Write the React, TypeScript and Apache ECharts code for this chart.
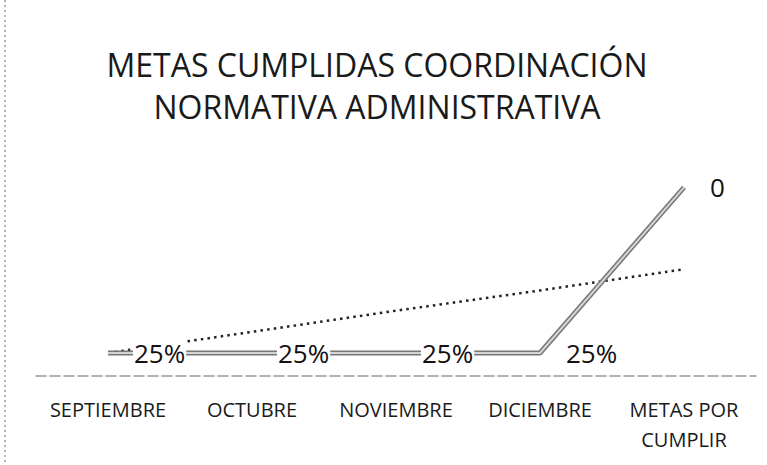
import React, { useEffect, useRef } from "react";
import * as echarts from "echarts";

const titleLines = ["METAS CUMPLIDAS COORDINACIÓN", "NORMATIVA ADMINISTRATIVA"];
const categories = ["SEPTIEMBRE", "OCTUBRE", "NOVIEMBRE", "DICIEMBRE", "METAS POR\nCUMPLIR"];
const metasValues = [0.25, 0.25, 0.25, 0.25, 2.05];
const pointLabels = ["25%", "25%", "25%", "25%", "0"];
const trendValues = [0.25, 0.48, 0.71, 0.93, 1.16];

export default function App() {
  const ref = useRef<HTMLDivElement>(null);
  useEffect(() => {
    if (!ref.current) return;
    const chart = echarts.init(ref.current, null, { renderer: "svg" });
    const font = "'Open Sans', sans-serif";
    chart.setOption({
      animation: false,
      backgroundColor: "#ffffff",
      graphic: [
        {
          type: "text",
          x: 377,
          y: 43,
          style: {
            text: titleLines.join("\n"),
            font: `32px ${font}`,
            fill: "#1a1a1a",
            textAlign: "center",
            textVerticalAlign: "top",
            lineHeight: 42,
          },
        },
        {
          type: "line",
          shape: { x1: 5, y1: 0, x2: 5, y2: 465 },
          style: { stroke: "#666", lineWidth: 1, lineDash: [2, 3] },
        },
      ],
      grid: { left: 36, right: 11, top: 146, bottom: 89 },
      xAxis: {
        type: "category",
        data: categories,
        boundaryGap: true,
        axisLine: { show: true, lineStyle: { color: "#999", width: 1.5, type: [10, 4] } },
        axisTick: { show: false },
        axisLabel: {
          margin: 18,
          fontFamily: "Open Sans",
          fontSize: 20,
          lineHeight: 30,
          color: "#1a1a1a",
          interval: 0,
        },
      },
      yAxis: { type: "value", min: 0, max: 2.5, show: false },
      series: [
        {
          type: "line",
          data: trendValues,
          z: 1,
          symbol: "none",
          lineStyle: { color: "#222", width: 2.5, type: [2.5, 4.2] },
          silent: true,
        },
        {
          type: "line",
          data: metasValues,
          z: 2,
          symbol: "none",
          lineStyle: { color: "#777", width: 5 },
          silent: true,
        },
        {
          type: "line",
          data: metasValues,
          z: 3,
          symbol: "circle",
          symbolSize: 2,
          itemStyle: { color: "rgba(0,0,0,0)", borderWidth: 0 },
          lineStyle: { color: "#d4d4d4", width: 2 },
          label: {
            show: true,
            position: "right",
            distance: 24,
            fontFamily: "Open Sans",
            fontSize: 26,
            color: "#111",
            backgroundColor: "#ffffff",
            padding: [0, 1],
            formatter: (p: any) => pointLabels[p.dataIndex],
          },
          silent: true,
        },
      ],
    });
    return () => chart.dispose();
  }, []);
  return (
    <div
      ref={ref}
      style={{ position: "fixed", left: 0, top: 0, width: 767, height: 465 }}
    />
  );
}
